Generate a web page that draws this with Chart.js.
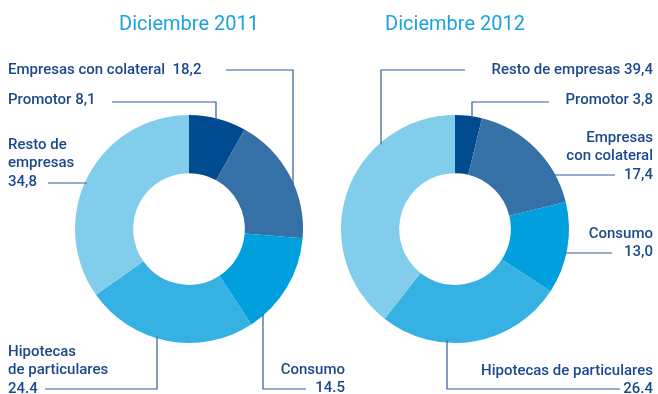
<!DOCTYPE html>
<html>
<head>
<meta charset="utf-8">
<script src="https://cdn.jsdelivr.net/npm/chart.js@4"></script>
<style>
  html, body { margin: 0; padding: 0; background: #fff; }
  #wrap { position: relative; width: 658px; height: 394px; }
  #wrap canvas { position: absolute; left: 0; top: 0; }
</style>
</head>
<body>
<div id="wrap">
  <canvas id="c2011" width="658" height="394"></canvas>
  <canvas id="c2012" width="658" height="394"></canvas>
</div>
<script>
// Portfolio breakdown (%), clockwise from 12 o'clock
const categories = ['Promotor', 'Empresas con colateral', 'Consumo', 'Hipotecas de particulares', 'Resto de empresas'];
const values2011 = [8.1, 18.2, 14.5, 24.4, 34.8];
const values2012 = [3.8, 17.4, 13.0, 26.4, 39.4];
const labels2011 = ['8,1', '18,2', '14.5', '24.4', '34,8'];
const labels2012 = ['3,8', '17,4', '13,0', '26.4', '39,4'];
const titles = ['Diciembre 2011', 'Diciembre 2012'];

const sliceColors = ['#004b8f', '#3570a6', '#009fdd', '#36b1e3', '#82cdec'];
const textColor = '#1b4a8c';
const lineColor = '#2d5f9c';
const titleColor = '#1ba3de';
const FONT = 'Roboto, "Liberation Sans", sans-serif';

// Draws the title, callout texts and leader lines that join each callout to the ring
const calloutPlugin = {
  id: 'callouts',
  afterDraw(chart, args, opts) {
    const ctx = chart.ctx;
    const arc = chart.getDatasetMeta(0).data[0];
    const cx = arc.x, cy = arc.y, r = arc.outerRadius;
    ctx.save();
    ctx.fillStyle = titleColor;
    ctx.font = '400 20px ' + FONT;
    ctx.textAlign = 'center';
    ctx.textBaseline = 'middle';
    ctx.fillText(opts.title, opts.titleX, opts.titleY);

    ctx.font = '500 15px ' + FONT;
    ctx.fillStyle = textColor;
    ctx.strokeStyle = lineColor;
    ctx.lineWidth = 1.2;
    opts.items.forEach(it => {
      ctx.textAlign = it.align;
      it.lines.forEach((t, i) => ctx.fillText(t, it.x, it.y + i * 18.7));
      const L = it.leader;
      ctx.beginPath();
      ctx.moveTo(L.from, L.y);
      if (L.vx !== undefined) {
        // horizontal run, then vertical drop/rise to the ring edge
        const dy = Math.sqrt(Math.max(0, r * r - (L.vx - cx) * (L.vx - cx)));
        const edgeY = L.side === 'top' ? cy - dy + 2 : cy + dy - 2;
        ctx.lineTo(L.vx, L.y);
        ctx.lineTo(L.vx, edgeY);
      } else {
        // straight horizontal run to the ring edge
        const dx = Math.sqrt(Math.max(0, r * r - (L.y - cy) * (L.y - cy)));
        const edgeX = L.side === 'left' ? cx - dx + 2 : cx + dx - 2;
        ctx.lineTo(edgeX, L.y);
      }
      ctx.stroke();
    });
    ctx.restore();
  }
};

function makeChart(id, values, pad, plugOpts) {
  return new Chart(document.getElementById(id), {
    type: 'doughnut',
    data: {
      labels: categories,
      datasets: [{
        data: values,
        backgroundColor: sliceColors,
        borderWidth: 0
      }]
    },
    options: {
      responsive: false,
      animation: false,
      cutout: '49%',
      layout: { padding: pad },
      plugins: {
        legend: { display: false },
        tooltip: { enabled: false },
        callouts: plugOpts
      }
    },
    plugins: [calloutPlugin]
  });
}

makeChart('c2011', values2011, { left: 75, right: 355, top: 115, bottom: 51 }, {
  title: titles[0], titleX: 189, titleY: 25,
  items: [
    { lines: [categories[1] + '  ' + labels2011[1]], align: 'left', x: 8, y: 70,
      leader: { from: 226, y: 70, vx: 293, side: 'top' } },
    { lines: [categories[0] + ' ' + labels2011[0]], align: 'left', x: 8, y: 100,
      leader: { from: 112, y: 102, vx: 216, side: 'top' } },
    { lines: ['Resto de', 'empresas', labels2011[4]], align: 'left', x: 8, y: 145,
      leader: { from: 48, y: 183, side: 'left' } },
    { lines: ['Hipotecas', 'de particulares', labels2011[3]], align: 'left', x: 8, y: 352,
      leader: { from: 45, y: 389, vx: 157, side: 'bottom' } },
    { lines: [categories[2], labels2011[2]], align: 'right', x: 345, y: 370,
      leader: { from: 306, y: 389, vx: 263, side: 'bottom' } }
  ]
});

makeChart('c2012', values2012, { left: 341, right: 89, top: 115, bottom: 51 }, {
  title: titles[1], titleX: 455, titleY: 25,
  items: [
    { lines: [categories[4] + ' ' + labels2012[4]], align: 'right', x: 653, y: 70,
      leader: { from: 465, y: 70, vx: 381, side: 'top' } },
    { lines: [categories[0] + ' ' + labels2012[0]], align: 'right', x: 653, y: 100,
      leader: { from: 549, y: 102, vx: 472, side: 'top' } },
    { lines: ['Empresas', 'con colateral', labels2012[1]], align: 'right', x: 653, y: 138,
      leader: { from: 615, y: 175, side: 'right' } },
    { lines: [categories[2], labels2012[2]], align: 'right', x: 653, y: 234,
      leader: { from: 612, y: 253, side: 'right' } },
    { lines: [categories[3], labels2012[3]], align: 'right', x: 653, y: 371,
      leader: { from: 620, y: 389, vx: 447, side: 'bottom' } }
  ]
});
</script>
</body>
</html>
